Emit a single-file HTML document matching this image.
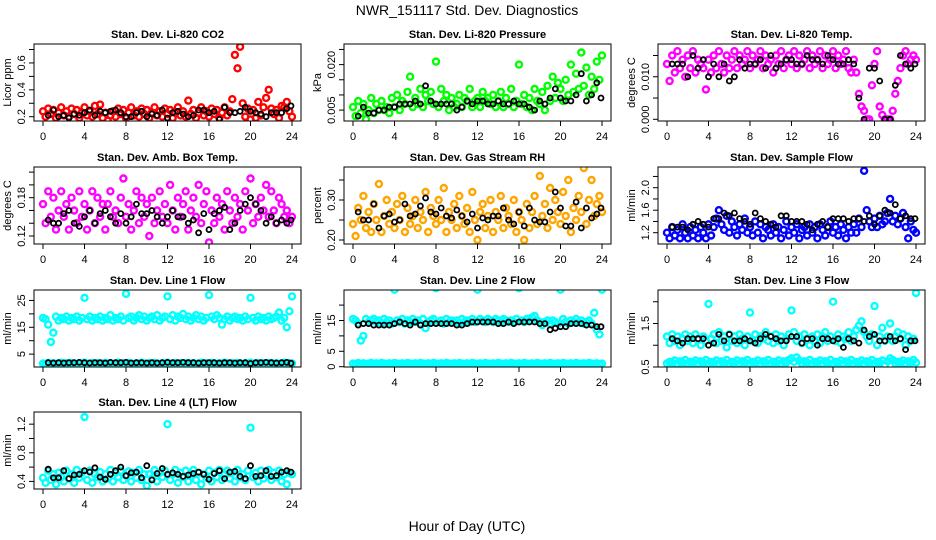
<!DOCTYPE html>
<html><head><meta charset="utf-8">
<style>
html,body{margin:0;padding:0;background:#fff;}
svg{display:block;font-family:"Liberation Sans",Arial,sans-serif;}
</style></head>
<body>
<svg id="chart" width="936" height="540" viewBox="0 0 936 540" xmlns="http://www.w3.org/2000/svg">
<rect x="0" y="0" width="936" height="540" fill="#fff"/>
<text x="467" y="15" font-size="14" text-anchor="middle" fill="#000">NWR_151117  Std. Dev. Diagnostics</text>
<text x="467" y="531" font-size="14" text-anchor="middle" fill="#000">Hour of Day (UTC)</text>
<g id="panels"></g>
</svg>
<script>
// x categories (hours)
const hoursColor = [0,0.25,0.5,0.75,1,1.25,1.5,1.75,2,2.25,2.5,2.75,3,3.25,3.5,3.75,4,4.25,4.5,4.75,5,5.25,5.5,5.75,6,6.25,6.5,6.75,7,7.25,7.5,7.75,8,8.25,8.5,8.75,9,9.25,9.5,9.75,10,10.25,10.5,10.75,11,11.25,11.5,11.75,12,12.25,12.5,12.75,13,13.25,13.5,13.75,14,14.25,14.5,14.75,15,15.25,15.5,15.75,16,16.25,16.5,16.75,17,17.25,17.5,17.75,18,18.25,18.5,18.75,19,19.25,19.5,19.75,20,20.25,20.5,20.75,21,21.25,21.5,21.75,22,22.25,22.5,22.75,23,23.25,23.5,23.75,24];
const hoursBlack = [0.5,1,1.5,2,2.5,3,3.5,4,4.5,5,5.5,6,6.5,7,7.5,8,8.5,9,9.5,10,10.5,11,11.5,12,12.5,13,13.5,14,14.5,15,15.5,16,16.5,17,17.5,18,18.5,19,19.5,20,20.5,21,21.5,22,22.5,23,23.5,23.9];
const xTicks = [0,4,8,12,16,20,24];

// Panel 1: CO2
const co2Color = [.24,.20,.26,.22,.25,.19,.23,.27, .21,.24,.20,.26,.22,.25,.19,.23, .27,.21,.24,.20,.28,.22,.29,.19, .23,.17,.21,.24,.20,.26,.22,.25, .19,.23,.27,.21,.24,.20,.26,.22, .25,.19,.23,.27,.21,.24,.20,.26, .22,.25,.19,.23,.27,.21,.24,.20, .32,.22,.25,.19,.23,.27,.21,.24, .20,.26,.22,.25,.19,.23,.27,.21, .24,.33,.66,.56,.72,.30,.20,.26, .18,.25,.19,.31,.21,.27,.34,.40, .26,.22,.25,.19,.28,.27,.31,.24, .20];
const co2Black = [.21,.25,.20,.21,.19,.22,.21,.23, .25,.21,.24,.23,.24,.25,.23,.20, .20,.23,.24,.20,.22,.21,.25,.19, .23,.24,.22,.20,.21,.25,.25,.23, .24,.18,.27,.23,.23,.24,.27,.24, .23,.22,.20,.23,.23,.23,.26,.28];
// Panel 2: Pressure
const presColor = [.006,.003,.008,.004,.007,.002,.005,.009, .004,.007,.005,.008,.005,.006,.004,.009, .006,.010,.005,.008,.007,.011,.016,.006, .009,.007,.012,.006,.010,.008,.011,.007, .021,.006,.012,.008,.010,.005,.009,.006, .007,.010,.006,.009,.008,.012,.006,.008, .009,.006,.011,.008,.009,.007,.010,.006, .008,.011,.006,.009,.007,.012,.006,.008, .020,.007,.010,.006,.009,.005,.012,.008, .007,.011,.005,.013,.008,.016,.009,.014, .012,.008,.015,.010,.020,.011,.017,.012, .024,.013,.019,.010,.016,.012,.021,.015, .023];
const presBlack = [.003,.006,.004,.004,.005,.005,.006,.006, .007,.007,.007,.008,.007,.013,.008,.007, .007,.007,.007,.005,.006,.008,.007,.008, .008,.007,.007,.008,.007,.007,.008,.007, .007,.006,.005,.008,.007,.009,.012,.009, .008,.008,.010,.017,.008,.010,.014,.009];
// Panel 3: Li-820 Temp
const tempColor = [.013,.009,.015,.011,.016,.012,.014,.010, .015,.012,.016,.011,.014,.013,.012,.007, .014,.011,.015,.012,.016,.013,.011,.015, .012,.014,.016,.012,.015,.013,.014,.016, .012,.015,.013,.014,.016,.012,.015,.013, .014,.011,.015,.013,.016,.012,.014,.015, .013,.016,.012,.015,.013,.014,.016,.012, .015,.013,.014,.016,.012,.015,.013,.014, .016,.012,.015,.013,.014,.016,.012,.011, .014,.011,.006,.003,.002,.000,.000,.008, .013,.016,.003,.001,.000,.000,.000,.002, .006,.009,.012,.015,.016,.013,.014,.015, .014];
const tempBlack = [.013,.013,.013,.010,.015,.012,.014,.010, .013,.010,.013,.009,.010,.014,.012,.013, .013,.014,.012,.015,.012,.013,.014,.014, .013,.013,.015,.014,.014,.013,.015,.014, .013,.013,.014,.013,.005,.000,.012,.012, .009,.000,.000,.008,.015,.013,.012,.013];
// Panel 4: Amb Box Temp
const ambColor = [.17,.14,.19,.15,.18,.13,.16,.19, .15,.17,.13,.18,.16,.14,.19,.15, .17,.13,.16,.19,.14,.18,.15,.17, .13,.17,.19,.15,.16,.14,.18,.21, .15,.17,.13,.16,.19,.14,.18,.15, .17,.12,.18,.14,.16,.19,.15,.17, .14,.20,.16,.13,.18,.15,.17,.19, .13,.16,.18,.15,.20,.14,.17,.19, .11,.16,.14,.18,.15,.17,.13,.19, .16,.14,.18,.15,.17,.13,.19,.16, .21,.14,.17,.15,.18,.16,.20,.15, .19,.16,.14,.18,.17,.15,.16,.14, .15];
const ambBlack = [.145,.14,.14,.155,.16,.14,.135,.15, .16,.14,.155,.16,.15,.14,.155,.14, .15,.17,.155,.155,.16,.15,.14,.15, .16,.15,.15,.14,.145,.125,.155,.13, .155,.16,.165,.13,.14,.16,.17,.18, .17,.16,.14,.15,.14,.145,.14,.145];
// Panel 5: Gas Stream RH
const rhColor = [.24,.21,.28,.25,.31,.23,.27,.22, .29,.25,.34,.22,.26,.30,.24,.27, .23,.29,.25,.31,.22,.28,.24,.26, .30,.23,.27,.25,.32,.22,.28,.26, .24,.30,.25,.33,.22,.27,.25,.29, .23,.31,.26,.24,.28,.22,.32,.25, .20,.27,.29,.23,.26,.30,.22,.27, .25,.31,.23,.28,.26,.24,.30,.22, .27,.25,.20,.29,.23,.27,.31,.24, .36,.26,.29,.23,.33,.25,.30,.27, .24,.32,.26,.35,.22,.28,.25,.31, .27,.38,.24,.30,.35,.26,.29,.31, .27];
const rhBlack = [.27,.25,.25,.29,.23,.26,.265,.245, .25,.29,.26,.265,.285,.305,.27,.265, .28,.26,.255,.275,.26,.245,.265,.23, .255,.25,.26,.26,.28,.25,.24,.27, .235,.28,.25,.245,.245,.27,.32,.28, .235,.235,.295,.23,.28,.255,.265,.28];
// Panel 6: Sample Flow
const sampColor = [1.2,1.1,1.3,1.15,1.25,1.1,1.35,1.2, 1.1,1.3,1.15,1.25,1.1,1.3,1.2,1.1, 1.35,1.15,1.3,1.45,1.6,1.35,1.25,1.5, 1.2,1.4,1.3,1.15,1.35,1.25,1.45,1.2, 1.3,1.15,1.4,1.2,1.35,1.1,1.3,1.25, 1.15,1.35,1.2,1.3,1.1,1.25,1.4,1.15, 1.3,1.2,1.35,1.1,1.25,1.3,1.15,1.35, 1.2,1.3,1.1,1.35,1.25,1.15,1.3,1.4, 1.2,1.3,1.15,1.35,1.25,1.1,1.3,1.2, 1.35,1.2,1.45,1.3,2.3,1.6,1.4,1.3, 1.45,1.3,1.5,1.35,1.4,1.55,1.8,1.4, 1.5,1.35,1.45,1.55,1.3,1.1,1.4,1.25, 1.2];
const sampBlack = [1.3,1.3,1.3,1.25,1.35,1.4,1.35,1.3, 1.45,1.45,1.55,1.5,1.55,1.45,1.4,1.35, 1.55,1.45,1.4,1.35,1.3,1.5,1.5,1.4, 1.4,1.4,1.35,1.25,1.35,1.4,1.3,1.45, 1.45,1.45,1.4,1.45,1.45,1.4,1.5,1.35, 1.5,1.6,1.55,1.7,1.45,1.5,1.45,1.45];
// Panel 7: Line 1 Flow
const l1High = [18.5,18,16,9.5,13,19,17.5,18.5, 18,19,17.5,18.5,18,19,17.5,18.5, 26,18,19,17.5,18.5,18,19,17.5, 18.5,18,19.5,17.5,18.5,18,19,17.5, 27.5,18.5,19,17.5,18.5,19.5,18,19, 17.5,18.5,19,18,19.5,17.5,18.5,19, 26.5,18,19.5,17.5,19,18.5,20,18, 19,17.5,18.5,19.5,18,19,17.5,18.5, 27,19,18,19.5,18.5,16,18,19, 17.5,18.5,19,18,18.5,17.5,19,18, 26,18.5,17.5,19,18,18.5,17.5,19, 18,18.5,19,20.5,17.5,18.5,15,21, 26.5];
const l1Low = [1.5,1.3,1.7,1.4,1.6,1.2,1.5,1.8, 1.4,1.6,1.3,1.7,1.5,1.2,1.6,1.4, 1.8,1.3,1.5,1.7,1.4,1.6,1.2,1.5, 1.7,1.4,1.6,1.3,1.5,1.8,1.4,1.6, 1.3,1.7,1.5,1.2,1.6,1.4,1.8,1.5, 1.3,1.6,1.4,1.7,1.5,1.2,1.6,1.4, 1.8,1.3,1.5,1.7,1.4,1.6,1.2,1.5, 1.7,1.4,1.6,1.3,1.5,1.8,1.4,1.6, 1.3,1.7,1.5,1.2,1.6,1.4,1.8,1.5, 1.3,1.6,1.4,1.7,1.5,1.2,1.6,1.4, 1.8,1.3,1.5,1.7,1.4,1.6,1.2,1.5, 1.7,1.4,1.6,1.3,1.5,1.8,1.4,1.6, 1.5];
const l1Black = [1.8,1.7,1.8,1.7,1.8,1.8,1.9,1.8, 1.7,1.8,1.8,1.7,1.9,1.8,1.8,1.9, 1.7,1.8,1.8,1.7,1.8,1.7,1.8,1.9, 1.8,1.8,1.9,1.8,1.8,1.7,1.8,1.8, 1.8,1.7,1.8,1.8,1.7,1.8,1.8,1.5, 1.8,1.8,1.9,1.8,1.7,1.8,1.9,1.6];
// Panel 8: Line 2 Flow
const l2High = [15.5,15,14,8.5,10,15.5,14.5,15, 15.5,14.5,15,14,15.5,14.5,15,14, 25,15,14.5,15.5,14,15,14.5,15.5, 14.5,15,14,15.5,12.5,14.5,15,15.5, 25.5,14.5,15,14,15.5,14.5,15,14.5, 15,14,15.5,14.5,15,14.5,15.5,14.5, 25,15.5,15,14.5,15.5,15,14.5,15.5, 15,14.5,15.5,15,14.5,15,14.5,15.5, 25.5,15,14.5,15.5,15,16,16.5,15, 14.5,13.5,14.5,15,14,15,14.5,14, 25,15.5,14.5,14,15,14.5,15.5,14.5, 15,14,14.5,15,14,17.5,12,10.5, 25];
const l2Low = [1,0.8,1.2,0.9,1.1,0.8,1,1.2, 0.9,1.1,0.8,1.2,1,0.9,1.1,0.8, 1.2,1,0.9,1.1,0.8,1.2,1,0.9, 1.1,0.8,1.2,1,0.9,1.1,0.8,1.2, 1,0.9,1.1,0.8,1.2,1,0.9,1.1, 0.8,1.2,1,0.9,1.1,0.8,1.2,1, 0.9,1.1,0.8,1.2,1,0.9,1.1,0.8, 1.2,1,0.9,1.1,0.8,1.2,1,0.9, 1.1,0.8,1.2,1,0.9,1.1,0.8,1.2, 1,0.9,1.1,0.8,1.2,1,0.9,1.1, 0.8,1.2,1,0.9,1.1,0.8,1.2,1, 0.9,1.1,0.8,1.2,1,0.9,1.1,0.8, 1];
const l2Black = [13.5,14,14,13.5,13.5,13.5,13.5,14, 14.5,14,13.5,14.5,13.5,14,14,14, 14,14,14,13.5,13.5,14,14.5,14.5, 14.5,14.5,14.5,14,14,14.5,14,14.5, 14.5,14.5,14.5,14,14,12,12.5,13, 13,14,14,14,13.5,13.5,13,13];
// Panel 9: Line 3 Flow
const l3High = [1.2,1.05,1.25,1.1,1.2,1.0,1.15,1.25, 1.1,1.2,1.05,1.25,1.15,1.0,1.2,1.1, 1.95,1.15,1.25,1.05,1.3,1.1,1.2,0.95, 1.25,1.1,1.2,1.05,1.25,1.15,1.0,1.2, 1.75,1.1,1.25,1.05,1.2,1.15,1.3,1.1, 1.2,1.05,1.25,1.1,1.2,1.0,1.15,1.25, 1.8,1.3,1.1,1.2,1.05,1.25,1.15,1.0, 1.2,1.1,1.25,1.05,1.2,1.3,1.1,1.2, 2.0,1.1,1.25,1.05,1.2,1.15,1.3,1.1, 1.2,1.35,1.45,1.55,1.3,1.2,1.1,1.25, 1.9,1.0,1.2,1.4,1.1,1.2,1.5,1.1, 1.2,1.3,1.15,1.25,1.0,1.2,1.1,1.15, 2.2];
const l3Low = [0.58,0.62,0.6,0.65,0.58,0.63,0.6,0.66, 0.58,0.62,0.6,0.65,0.58,0.63,0.6,0.66, 0.58,0.62,0.6,0.65,0.58,0.63,0.6,0.66, 0.58,0.62,0.6,0.65,0.58,0.63,0.6,0.66, 0.58,0.62,0.6,0.65,0.58,0.63,0.6,0.66, 0.58,0.62,0.6,0.65,0.58,0.63,0.6,0.66, 0.7,0.62,0.72,0.65,0.58,0.63,0.6,0.66, 0.58,0.62,0.6,0.65,0.58,0.63,0.6,0.66, 0.58,0.62,0.6,0.65,0.58,0.63,0.6,0.66, 0.58,0.62,0.6,0.65,0.58,0.63,0.6,0.66, 0.58,0.62,0.6,0.65,0.55,0.63,0.7,0.66, 0.58,0.62,0.6,0.65,0.58,0.63,0.6,0.66, 0.6];
const l3Black = [1.15,1.1,1.05,1.15,1.15,1.15,1.15,1.0, 1.05,1.25,1.1,1.25,1.1,1.1,1.15,1.1, 1.05,1.15,1.25,1.2,1.15,1.1,1.1,1.2, 1.2,1.05,1.15,1.15,1.0,1.15,1.15,1.1, 1.15,0.95,1.15,1.1,1.05,1.35,1.2,1.25, 1.1,1.1,1.2,1.1,1.15,0.9,1.1,1.1];
// Panel 10: Line 4 (LT) Flow
const l4Color = [0.45,0.38,0.55,0.42,0.5,0.36,0.52,0.46, 0.4,0.55,0.44,0.5,0.38,0.56,0.45,0.52, 1.3,0.42,0.55,0.38,0.5,0.46,0.53,0.4, 0.5,0.44,0.56,0.4,0.52,0.46,0.55,0.42, 0.48,0.54,0.4,0.52,0.45,0.56,0.42,0.5, 0.34,0.5,0.44,0.56,0.4,0.52,0.46,0.55, 1.2,0.42,0.5,0.56,0.38,0.52,0.46,0.55, 0.4,0.5,0.56,0.42,0.52,0.36,0.5,0.45, 0.55,0.4,0.52,0.46,0.56,0.42,0.5,0.55, 0.44,0.52,0.4,0.56,0.46,0.5,0.42,0.55, 1.15,0.46,0.52,0.4,0.55,0.44,0.5,0.56, 0.42,0.52,0.46,0.55,0.4,0.5,0.36,0.52, 0.5];
const l4Black = [0.57,0.45,0.45,0.55,0.44,0.49,0.5,0.55, 0.53,0.59,0.46,0.43,0.5,0.55,0.6,0.48, 0.52,0.53,0.45,0.62,0.42,0.51,0.58,0.5, 0.52,0.5,0.47,0.49,0.51,0.53,0.5,0.43, 0.51,0.55,0.44,0.53,0.54,0.47,0.44,0.62, 0.47,0.48,0.55,0.47,0.48,0.53,0.55,0.53];

const panelDefs = [
 {name:'co2', title:'Stan. Dev. Li-820 CO2', ylab:'Licor ppm', col:0,row:0, ymin:0.168,ymax:0.741, ticks:[.2,.3,.4,.5,.6,.7], labels:['0.2','','0.4','','0.6',''], series:[[co2Color,'#ff0000'],[co2Black,'#000000']]},
 {name:'pressure', title:'Stan. Dev. Li-820 Pressure', ylab:'kPa', col:1,row:0, ymin:0.0014,ymax:0.0268, ticks:[.005,.010,.015,.020,.025], labels:['0.005','','','0.020',''], series:[[presColor,'#00ff00'],[presBlack,'#000000']]},
 {name:'li820-temp', title:'Stan. Dev. Li-820 Temp.', ylab:'degrees C', col:2,row:0, ymin:-0.0004,ymax:0.0177, ticks:[0,.005,.010,.015], labels:['0.000','','0.010',''], series:[[tempColor,'#ff00ff'],[tempBlack,'#000000']]},
 {name:'amb-box-temp', title:'Stan. Dev. Amb. Box Temp.', ylab:'degrees C', col:0,row:1, ymin:0.1075,ymax:0.228, ticks:[.12,.14,.16,.18,.20,.22], labels:['0.12','','','0.18','',''], series:[[ambColor,'#ff00ff'],[ambBlack,'#000000']]},
 {name:'gas-stream-rh', title:'Stan. Dev. Gas Stream RH', ylab:'percent', col:1,row:1, ymin:0.19,ymax:0.3825, ticks:[.20,.25,.30,.35], labels:['0.20','','0.30',''], series:[[rhColor,'#ffa500'],[rhBlack,'#000000']]},
 {name:'sample-flow', title:'Stan. Dev. Sample Flow', ylab:'ml/min', col:2,row:1, ymin:0.999,ymax:2.368, ticks:[1.2,1.4,1.6,1.8,2.0,2.2], labels:['1.2','','1.6','','2.0',''], series:[[sampColor,'#0000ff'],[sampBlack,'#000000']]},
 {name:'line1-flow', title:'Stan. Dev. Line 1 Flow', ylab:'ml/min', col:0,row:2, ymin:0.2,ymax:28.9, ticks:[5,10,15,20,25], labels:['5','','15','','25'], series:[[l1High,'#00ffff'],[l1Low,'#00ffff'],[l1Black,'#000000']]},
 {name:'line2-flow', title:'Stan. Dev. Line 2 Flow', ylab:'ml/min', col:1,row:2, ymin:-0.1,ymax:24.9, ticks:[0,5,10,15,20], labels:['0','5','','15',''], series:[[l2High,'#00ffff'],[l2Low,'#00ffff'],[l2Black,'#000000']]},
 {name:'line3-flow', title:'Stan. Dev. Line 3 Flow', ylab:'ml/min', col:2,row:2, ymin:0.5,ymax:2.27, ticks:[0.5,1.0,1.5,2.0], labels:['0.5','','1.5',''], series:[[l3High,'#00ffff'],[l3Low,'#00ffff'],[l3Black,'#000000']]},
 {name:'line4-flow', title:'Stan. Dev. Line 4 (LT) Flow', ylab:'ml/min', col:0,row:3, ymin:0.294,ymax:1.37, ticks:[0.4,0.6,0.8,1.0,1.2], labels:['0.4','','0.8','','1.2'], series:[[l4Color,'#00ffff'],[l4Black,'#000000']]}
];

const NS = 'http://www.w3.org/2000/svg';
const colLeft = [34, 344, 658];
const rowTop = [44, 167, 290, 412];
const PW = 267, PH = 77;
const root = document.getElementById('panels');

function mk(tag, attrs, parent) {
  const e = document.createElementNS(NS, tag);
  for (const k in attrs) e.setAttribute(k, attrs[k]);
  parent.appendChild(e);
  return e;
}

panelDefs.forEach(p => {
  const L = colLeft[p.col], T = rowTop[p.row];
  const xs = h => L + 9 + (h / 24) * (PW - 18);
  const ys = v => T + PH - (v - p.ymin) / (p.ymax - p.ymin) * PH;
  const g = mk('g', {}, root);
  
  

  const t = mk('text', {x: L + PW/2, y: T - 6, 'font-size': 11, 'font-weight': 'bold', 'text-anchor': 'middle', fill: '#000'}, g);
  t.textContent = p.title;
  
  

  const clip = 'clip-' + p.name;
  const cp = mk('clipPath', {id: clip}, g);
  mk('rect', {x: L, y: T, width: PW, height: PH}, cp);
  const pts = mk('g', {'clip-path': 'url(#' + clip + ')'}, g);
  
  
  p.series.forEach(([vals, color]) => {
    const isBlack = color === '#000000';
    const hrs = isBlack ? hoursBlack : hoursColor;
    vals.forEach((v, i) => {
      if (i >= hrs.length) return;
      const c = mk('circle', {cx: xs(hrs[i]).toFixed(1), cy: ys(v).toFixed(1), r: isBlack ? 2.5 : 3.0, fill: 'none', stroke: color, 'stroke-width': isBlack ? 1.8 : 2.4}, pts);
      
      
    });
  });

  const box = mk('rect', {x: L, y: T, width: PW, height: PH, fill: 'none', stroke: '#000', 'stroke-width': 1}, g);
  
  

  xTicks.forEach(h => {
    const x = xs(h);
    const tk = mk('line', {x1: x, x2: x, y1: T + PH, y2: T + PH + 5, stroke: '#000'}, g);
    
    
    const lb = mk('text', {x: x, y: T + PH + 19, 'font-size': 11, 'text-anchor': 'middle', fill: '#000'}, g);
    lb.textContent = String(h);
    
    
  });
  p.ticks.forEach((v, i) => {
    const y = ys(v);
    const tk = mk('line', {x1: L - 5, x2: L, y1: y, y2: y, stroke: '#000'}, g);
    
    
    if (p.labels[i]) {
      const lb = mk('text', {x: 0, y: 0, 'font-size': 11, 'text-anchor': 'middle', fill: '#000', transform: 'translate(' + (L - 9) + ',' + y.toFixed(1) + ') rotate(-90)'}, g);
      lb.textContent = p.labels[i];
      
      
    }
  });
  const yl = mk('text', {x: 0, y: 0, 'font-size': 11, 'text-anchor': 'middle', fill: '#000', transform: 'translate(' + (L - 23) + ',' + (T + PH/2) + ') rotate(-90)'}, g);
  yl.textContent = p.ylab;
  
  
});
</script>
</body></html>
